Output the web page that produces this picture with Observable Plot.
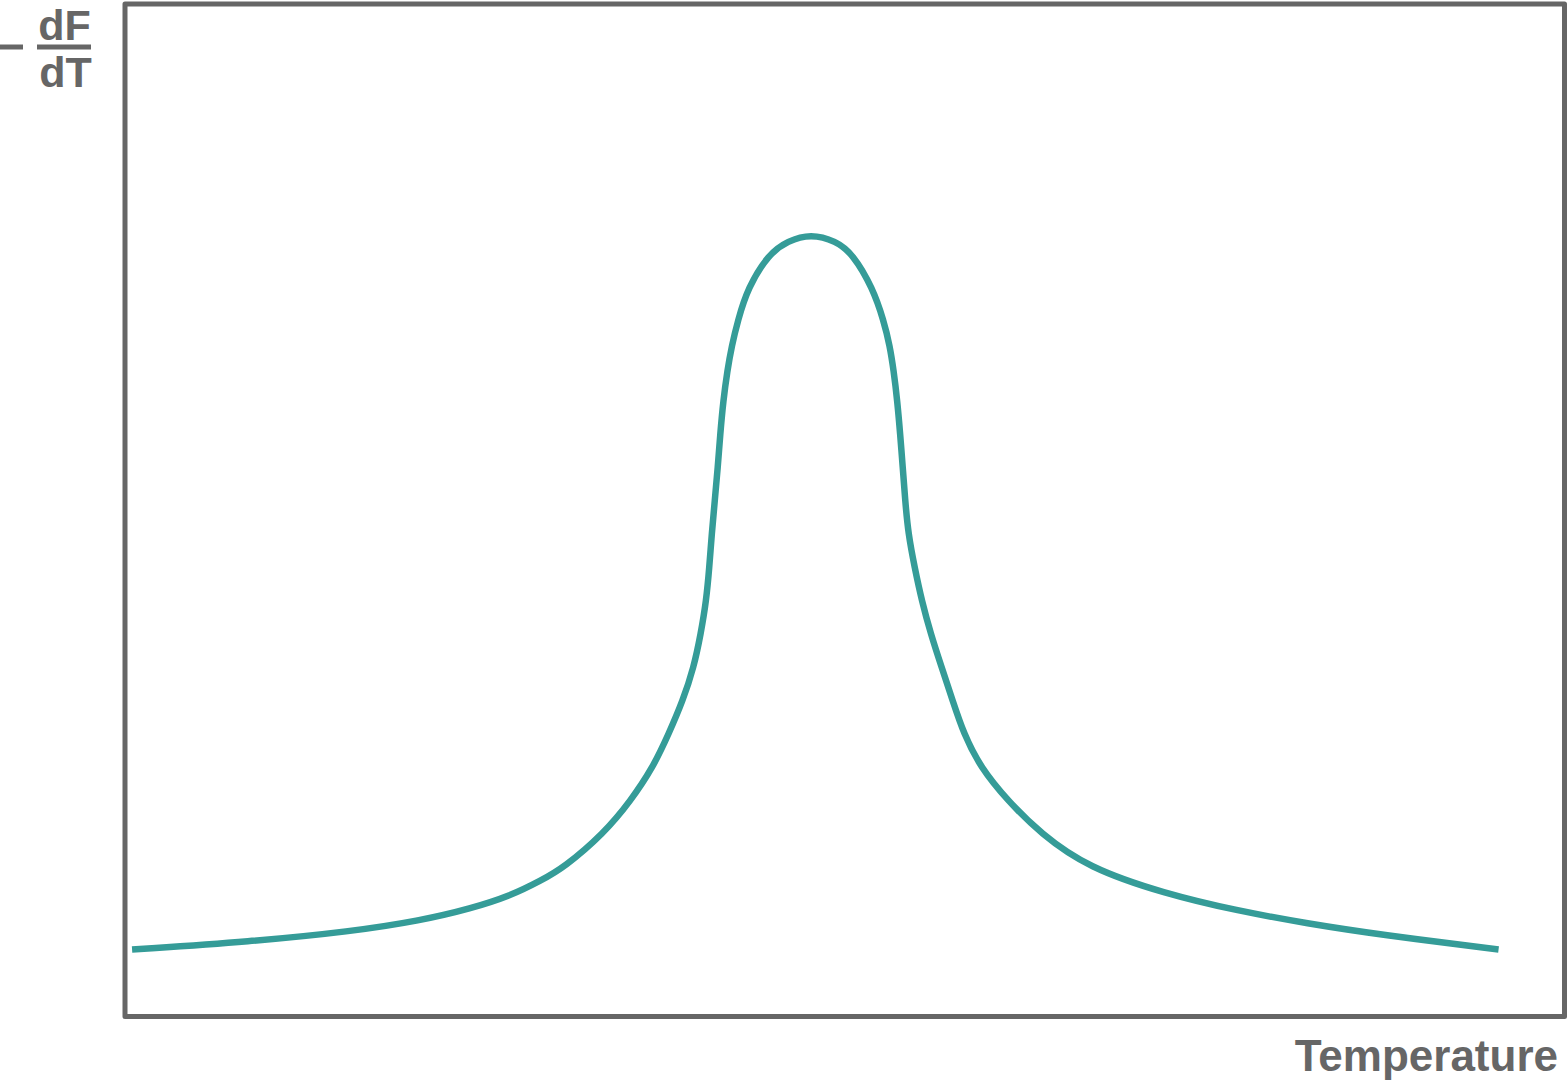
<!DOCTYPE html>
<html>
<head>
<meta charset="utf-8">
<script src="https://cdn.jsdelivr.net/npm/d3@7"></script>
<script src="https://cdn.jsdelivr.net/npm/@observablehq/plot@0.6"></script>
<style>
  html, body { margin: 0; padding: 0; background: #fff; }
  #chart svg { display: block; }
</style>
</head>
<body>
<div id="chart"></div>
<script>
// Temperature (arbitrary units, 0–100 across the frame)
const temperature = [
  0.49, 8.75, 15.69, 20.56, 24.03, 26.81, 28.89, 30.49, 33.26, 35.14, 36.67,
  37.78, 38.75, 39.51, 40.00, 40.38, 40.59, 40.76, 40.97, 41.18, 41.35, 41.56,
  41.84, 42.15, 42.57, 43.26, 44.72, 46.04, 47.64, 49.38, 50.56, 51.94, 52.71,
  53.13, 53.40, 53.65, 53.85, 54.03, 54.20, 54.41, 54.86, 55.35, 55.97, 56.74,
  57.50, 58.26, 59.44, 61.32, 63.61, 66.88, 72.22, 77.22, 82.15, 87.15, 95.42
];
// −dF/dT (arbitrary units, 0–100 of frame height)
const signal = [
  6.61, 7.40, 8.39, 9.48, 10.66, 11.94, 13.43, 14.71, 18.07, 21.32, 24.58,
  27.94, 31.19, 34.45, 37.81, 41.07, 44.32, 47.68, 50.94, 54.20, 57.55, 60.81,
  63.77, 66.24, 68.71, 71.96, 75.32, 76.60, 77.30, 76.60, 75.32, 71.96, 68.71,
  66.24, 63.77, 60.81, 57.55, 54.20, 50.94, 47.68, 44.32, 41.07, 37.81, 34.45,
  31.19, 27.94, 24.58, 21.32, 18.07, 14.71, 12.14, 10.46, 9.18, 8.09, 6.61
];
const xLabel = "Temperature";
const yNumerator = "dF";
const yDenominator = "dT";

const data = temperature.map((t, i) => ({t, v: signal[i]}));

const chart = Plot.plot({
  width: 1567,
  height: 1080,
  marginTop: 3.5,
  marginRight: 3,
  marginBottom: 64,
  marginLeft: 124.5,
  x: {domain: [0, 100], axis: null},
  y: {domain: [0, 100], axis: null},
  style: {background: "#fff", overflow: "visible"},
  marks: [
    Plot.frame({stroke: "#666", strokeWidth: 5, strokeLinejoin: "round"}),
    Plot.line(data, {
      x: "t", y: "v", curve: "basis",
      stroke: "#359c98", strokeWidth: 6.5, strokeLinecap: "butt"
    })
  ]
});

const svg = d3.select(chart);
const font = "'Liberation Sans', Arial, Helvetica, sans-serif";
const grey = "#666";

svg.append("text")
  .attr("x", 1558).attr("y", 1071)
  .attr("text-anchor", "end")
  .attr("font-family", font).attr("font-weight", "bold")
  .attr("font-size", 44).attr("fill", grey)
  .text(xLabel);

// minus sign
svg.append("line")
  .attr("x1", 0).attr("x2", 23).attr("y1", 47).attr("y2", 47)
  .attr("stroke", grey).attr("stroke-width", 5);
// fraction bar
svg.append("line")
  .attr("x1", 37).attr("x2", 91).attr("y1", 47).attr("y2", 47)
  .attr("stroke", grey).attr("stroke-width", 5);

svg.append("text")
  .attr("x", 64.5).attr("y", 40)
  .attr("text-anchor", "middle")
  .attr("font-family", font).attr("font-weight", "bold")
  .attr("font-size", 43).attr("fill", grey)
  .text(yNumerator);

svg.append("text")
  .attr("x", 65.5).attr("y", 87)
  .attr("text-anchor", "middle")
  .attr("font-family", font).attr("font-weight", "bold")
  .attr("font-size", 43).attr("fill", grey)
  .text(yDenominator);

document.getElementById("chart").appendChild(chart);
</script>
</body>
</html>
